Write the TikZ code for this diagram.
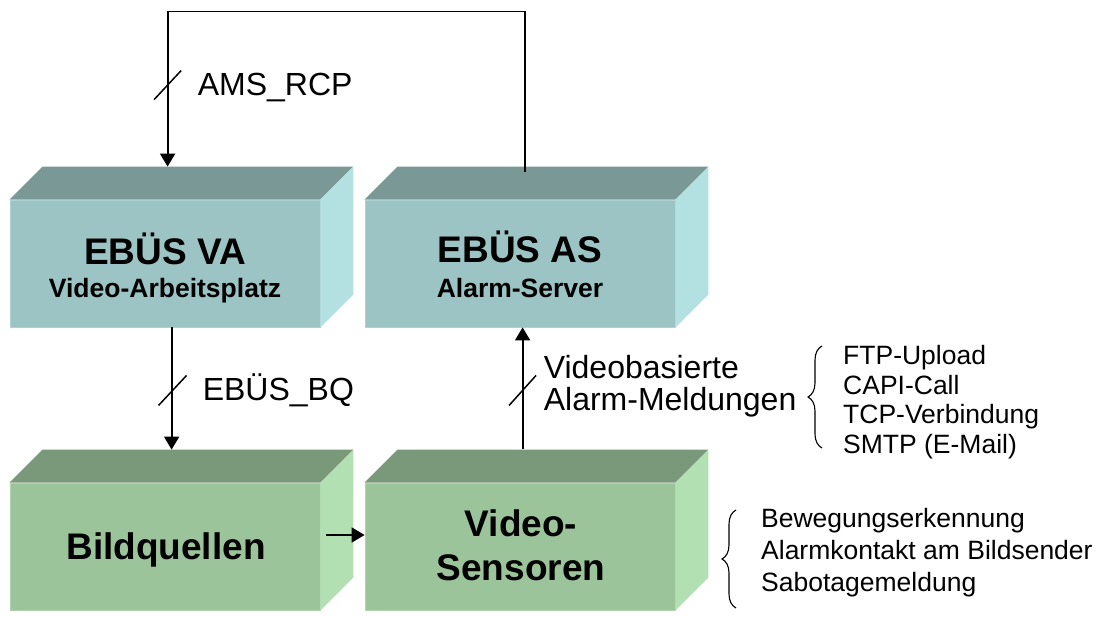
\documentclass[tikz,border=0pt]{standalone}
\usepackage{fontspec}
\setmainfont{Liberation Sans}
\usetikzlibrary{arrows.meta,decorations.pathreplacing}

\definecolor{tealFront}{RGB}{156,196,196}
\definecolor{tealTop}{RGB}{122,153,150}
\definecolor{tealSide}{RGB}{179,224,224}
\definecolor{tealEdge}{RGB}{176,210,210}
\definecolor{greenFront}{RGB}{155,196,155}
\definecolor{greenTop}{RGB}{122,153,122}
\definecolor{greenSide}{RGB}{179,224,179}
\definecolor{greenEdge}{RGB}{176,212,176}

% top and right faces of a block whose front face is the node #1
\newcommand\blockfaces[3]{%
  \fill[#2] (#1.north west) -- ([shift={(33,-33)}]#1.north west)
    -- ([shift={(33,-33)}]#1.north east) -- (#1.north east) -- cycle;
  \fill[#3] (#1.north east) -- ([shift={(33,-33)}]#1.north east)
    -- ([shift={(33,-33)}]#1.south east) -- (#1.south east) -- cycle;}

\begin{document}
\begin{tikzpicture}[x=1pt,y=-1pt,
  front/.style={rectangle, inner sep=0pt, minimum width=310pt, minimum height=127pt, line width=0.8pt},
  title/.style={anchor=base, inner sep=0pt, font=\fontsize{37}{40}\selectfont\bfseries},
  subtitle/.style={anchor=base, inner sep=0pt, font=\fontsize{26.5}{30}\selectfont\bfseries},
  label/.style={anchor=base west, inner sep=0pt, font=\fontsize{32}{34}\selectfont},
  item/.style={anchor=base west, inner sep=0pt, font=\fontsize{26.5}{28}\selectfont},
  conn/.style={line width=1.8pt, -{Triangle[width=15pt,length=13pt]}},
  slash/.style={line width=1.5pt},
  curly/.style={line width=1.1pt, decorate, decoration={brace, amplitude=14pt}}]
\useasboundingbox[fill=white] (0,0) rectangle (1096,617);

% blocks
\node[front, fill=tealFront, draw=tealEdge] (va) at (165,263.5) {};
\node[front, fill=tealFront, draw=tealEdge] (as) at (520,263.5) {};
\node[front, fill=greenFront, draw=greenEdge] (bq) at (165,546.5) {};
\node[front, fill=greenFront, draw=greenEdge] (vs) at (520,546.5) {};
\blockfaces{va}{tealTop}{tealSide}
\blockfaces{as}{tealTop}{tealSide}
\blockfaces{bq}{greenTop}{greenSide}
\blockfaces{vs}{greenTop}{greenSide}

% block texts
\node[title] (vaT) at ([shift={(0,1)}]va.center) {EBÜS VA};
\node[subtitle] (vaS) at ([shift={(0,34)}]va.center) {Video-Arbeitsplatz};
\node[title] (asT) at ([shift={(0,-1)}]as.center) {EBÜS AS};
\node[subtitle] (asS) at ([shift={(0,34)}]as.center) {Alarm-Server};
\node[title] (bqT) at ([shift={(1,13.5)}]bq.center) {Bildquellen};
\node[title] (vsT1) at ([shift={(1,-9.5)}]vs.center) {Video-};
\node[title] (vsT2) at ([shift={(1,33.5)}]vs.center) {Sensoren};

% connector end points on the blocks
\coordinate (asOut) at ([shift={(160,-28)}]as.north west);
\coordinate (vaIn)  at ([shift={(158,-33)}]va.north west);
\coordinate (vaOut) at ([shift={(162,0)}]va.south west);
\coordinate (bqIn)  at ([shift={(162,-33)}]bq.north west);
\coordinate (vsOut) at ([shift={(158,-34)}]vs.north west);
\coordinate (asIn)  at ([shift={(158,0)}]as.south west);
\coordinate (bqOut) at ([shift={(6,-11.5)}]bq.east);
\coordinate (vsIn)  at ([shift={(0,-11.5)}]vs.west);

% AMS_RCP loop from the alarm server back to the workstation
\draw[conn] (asOut) -- ++(0,-160) -| (vaIn);
\coordinate (s1) at ([shift={(0,-81.5)}]vaIn);
\draw[slash] ([shift={(-13.5,14.5)}]s1) -- ([shift={(13.5,-14.5)}]s1);
\node[label] (amsL) at ([shift={(30,10.5)}]s1) {AMS\_RCP};

% EBÜS_BQ
\draw[conn] (vaOut) -- (bqIn);
\coordinate (s2) at ([shift={(1,63)}]vaOut);
\draw[slash] ([shift={(-14,15)}]s2) -- ([shift={(14,-15)}]s2);
\node[label] (bqL) at ([shift={(30,10)}]s2) {EBÜS\_BQ};

% video based alarm messages
\draw[conn] (vsOut) -- (asIn);
\coordinate (s3) at ([shift={(0,63)}]asIn);
\draw[slash] ([shift={(-13.5,15)}]s3) -- ([shift={(13.5,-15)}]s3);
\node[label] (vbL1) at ([shift={(21,-12)}]s3) {Videobasierte};
\node[label] (vbL2) at ([shift={(21,20)}]s3) {Alarm-Meldungen};

% image sources to video sensors
\draw[conn] (bqOut) -- (vsIn);

% transport list
\coordinate (b1a) at (822,448);
\coordinate (b1b) at (822,346);
\draw[curly] (b1a) -- (b1b);
\node[item] (t1) at (843,365) {FTP-Upload};
\node[item] (t2) at (843,394.5) {CAPI-Call};
\node[item] (t3) at (843,424) {TCP-Verbindung};
\node[item] (t4) at (843,453.5) {SMTP (E-Mail)};

% sensor list
\coordinate (b2a) at (736,608);
\coordinate (b2b) at (736,510);
\draw[curly] (b2a) -- (b2b);
\node[item] (u1) at (761,528) {Bewegungserkennung};
\node[item] (u2) at (761,560) {Alarmkontakt am Bildsender};
\node[item] (u3) at (761,591) {Sabotagemeldung};
\end{tikzpicture}
\end{document}
